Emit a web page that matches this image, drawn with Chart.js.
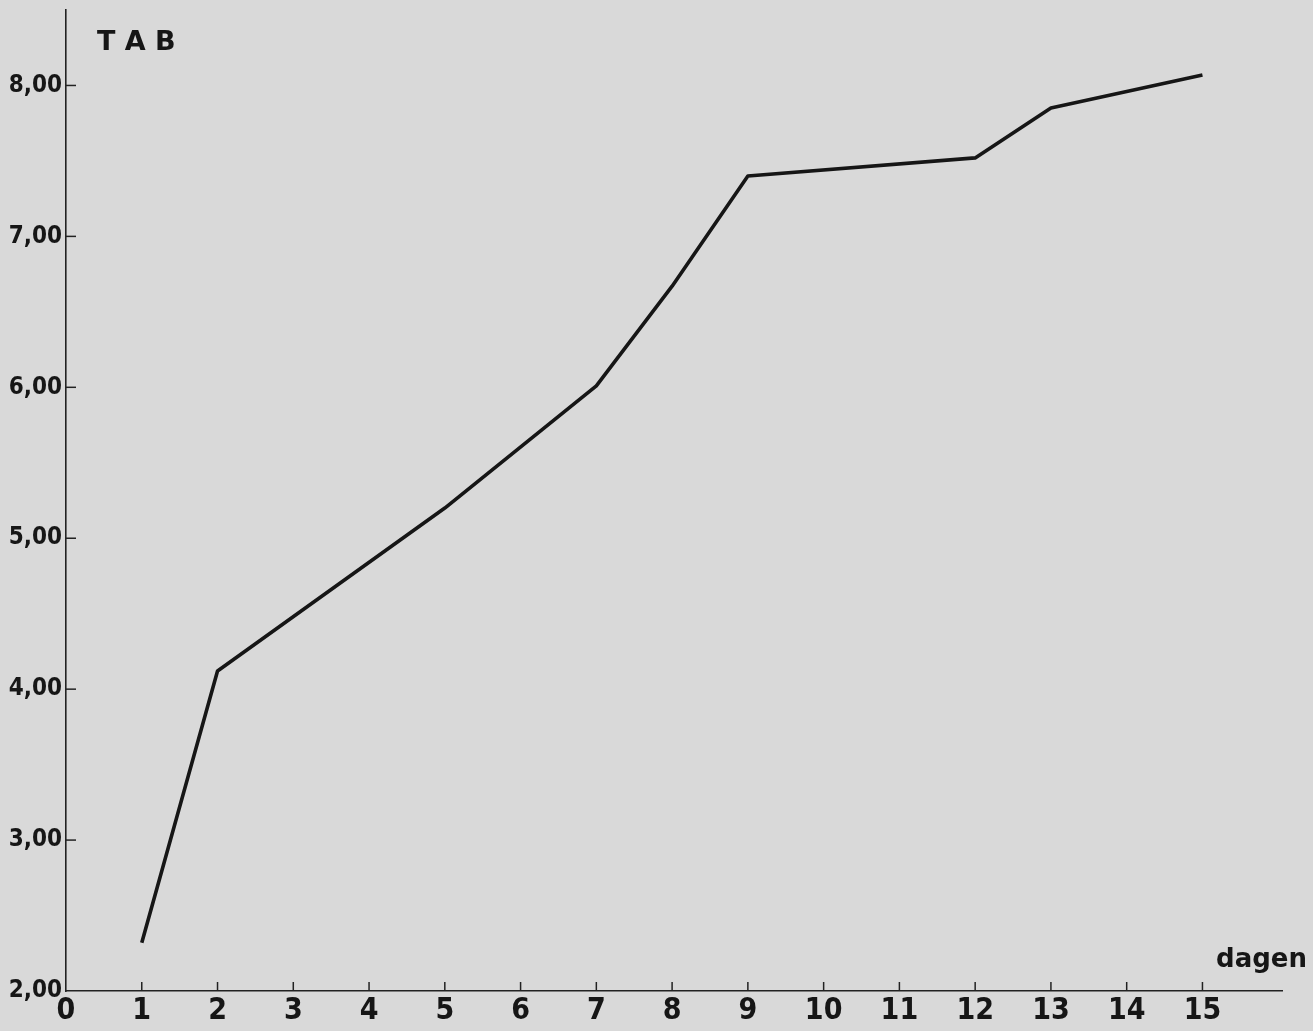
<!DOCTYPE html>
<html>
<head>
<meta charset="utf-8">
<script src="https://cdn.jsdelivr.net/npm/chart.js@4/dist/chart.umd.min.js"></script>
<style>
html,body{margin:0;padding:0;background:#d9d9d9;}
#wrap{width:1313px;height:1031px;position:relative;}
</style>
</head>
<body>
<div id="wrap"><canvas id="c" width="1313" height="1031"></canvas></div>
<script>
// Data
const days = [1, 2, 5, 7, 8, 9, 12, 13, 15];
const tabValues = [2.32, 4.12, 5.20, 6.01, 6.67, 7.40, 7.52, 7.85, 8.07];
const xTickValues = [0,1,2,3,4,5,6,7,8,9,10,11,12,13,14,15];
const yTickValues = [2,3,4,5,6,7,8];
const yAxisTitle = 'T A B';
const xAxisTitle = 'dagen';

const ink = '#161616';
const narrow = "'DejaVu Sans Condensed','Liberation Sans Narrow',sans-serif";

const innerTicks = {
  id: 'innerTicks',
  afterDraw(chart) {
    const {ctx, scales:{x, y}} = chart;
    ctx.save();
    ctx.strokeStyle = '#222';
    ctx.lineWidth = 1.5;
    const ax = x.getPixelForValue(0);
    yTickValues.forEach(v => {
      if (v === yTickValues[0]) return;
      const py = y.getPixelForValue(v);
      ctx.beginPath(); ctx.moveTo(ax, py); ctx.lineTo(ax + 10, py); ctx.stroke();
    });
    const ay = y.getPixelForValue(2);
    xTickValues.forEach(v => {
      if (v === 0) return;
      const px = x.getPixelForValue(v);
      ctx.beginPath(); ctx.moveTo(px, ay); ctx.lineTo(px, ay - 9); ctx.stroke();
    });
    // axis titles
    ctx.fillStyle = ink;
    ctx.font = "bold 27px 'DejaVu Sans', sans-serif";
    ctx.textBaseline = 'alphabetic';
    ctx.textAlign = 'left';
    ctx.fillText(yAxisTitle, ax + 31, 50);
    ctx.font = "bold 26px 'DejaVu Sans', sans-serif";
    ctx.textAlign = 'right';
    ctx.fillText(xAxisTitle, chart.width - 6, ay - 24);
    ctx.restore();
  }
};

new Chart(document.getElementById('c'), {
  type: 'line',
  data: {
    datasets: [{
      data: days.map((d, i) => ({x: d, y: tabValues[i]})),
      borderColor: ink,
      borderWidth: 3.6,
      borderJoinStyle: 'round',
      pointRadius: 0,
      tension: 0,
      fill: false
    }]
  },
  options: {
    responsive: false,
    animation: false,
    layout: {padding: {top: 10, right: 31, left: 0, bottom: 0}},
    plugins: {legend: {display: false}, tooltip: {enabled: false}},
    scales: {
      x: {
        type: 'linear',
        min: 0,
        max: 16.05,
        afterBuildTicks(scale) { scale.ticks = xTickValues.map(v => ({value: v})); },
        afterFit(scale) { scale.height = 40; scale.paddingLeft = 0; scale.paddingRight = 0; },
        grid: {drawOnChartArea: false, drawTicks: false},
        border: {display: true, color: '#222', width: 1.6},
        ticks: {
          padding: 2,
          color: ink,
          font: {family: narrow, size: 30, weight: 'bold'},
          maxRotation: 0,
          autoSkip: false
        }
      },
      y: {
        type: 'linear',
        min: 2,
        max: 8.5,
        afterBuildTicks(scale) { scale.ticks = yTickValues.map(v => ({value: v})); },
        afterFit(scale) { scale.width = 66; scale.paddingTop = 0; scale.paddingBottom = 0; },
        grid: {drawOnChartArea: false, drawTicks: false},
        border: {display: true, color: '#222', width: 1.6},
        ticks: {
          padding: 4,
          color: ink,
          font: {family: narrow, size: 24, weight: 'bold'},
          callback: v => v.toFixed(2).replace('.', ',')
        }
      }
    }
  },
  plugins: [innerTicks]
});
</script>
</body>
</html>
